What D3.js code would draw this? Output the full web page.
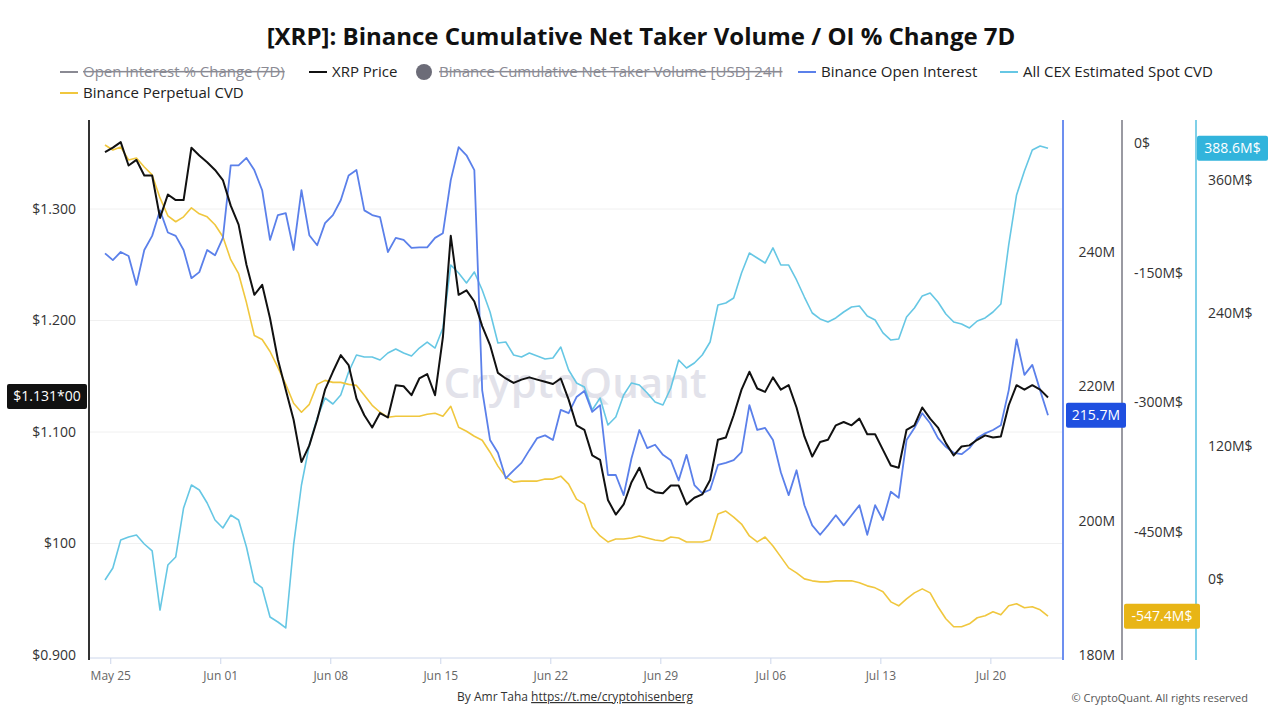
<!DOCTYPE html>
<html>
<head>
<meta charset="utf-8">
<script src="https://cdnjs.cloudflare.com/ajax/libs/d3/7.8.5/d3.min.js"></script>
<style>
	body { margin: 0; background: #fff; }
	svg text { font-family: "Open Sans", "Noto Sans", sans-serif; }
</style>
</head>
<body>
<svg id="chart" width="1280" height="720"></svg>
<script>

// 12-hourly samples, first one at May 24 16:00 UTC
const start_time = Date.UTC(2025, 4, 24, 16);
const step_hours = 12;

const price_values = [
	1.351, 1.355, 1.360, 1.339, 1.344, 1.330, 1.330, 1.292, 1.313, 1.308,
	1.308, 1.355, 1.348, 1.342, 1.335, 1.326, 1.303, 1.286, 1.250, 1.223,
	1.232, 1.202, 1.165, 1.138, 1.111, 1.073, 1.088, 1.111, 1.138, 1.154,
	1.169, 1.160, 1.130, 1.115, 1.104, 1.117, 1.113, 1.142, 1.141, 1.133,
	1.148, 1.152, 1.133, 1.185, 1.276, 1.223, 1.227, 1.217, 1.195, 1.178,
	1.153, 1.148, 1.144, 1.147, 1.149, 1.147, 1.145, 1.143, 1.148, 1.129,
	1.106, 1.102, 1.079, 1.075, 1.039, 1.026, 1.035, 1.055, 1.068, 1.050,
	1.046, 1.045, 1.052, 1.052, 1.035, 1.041, 1.044, 1.057, 1.093, 1.095,
	1.115, 1.138, 1.154, 1.139, 1.136, 1.149, 1.138, 1.142, 1.122, 1.096,
	1.078, 1.091, 1.093, 1.106, 1.109, 1.106, 1.112, 1.098, 1.098, 1.084,
	1.070, 1.068, 1.102, 1.106, 1.122, 1.112, 1.104, 1.090, 1.079, 1.087,
	1.088, 1.093, 1.097, 1.095, 1.096, 1.124, 1.142, 1.138, 1.142, 1.138,
	1.131
];

// Binance open interest, millions
const oi_values = [
	239.8, 238.8, 240.0, 239.4, 235.1, 240.3, 242.4, 246.2, 242.9, 242.4,
	240.3, 236.1, 237.0, 240.3, 239.5, 242.1, 252.9, 252.9, 254.0, 252.2,
	249.2, 241.8, 245.5, 245.8, 240.3, 249.2, 242.5, 241.0, 244.3, 245.5,
	247.7, 251.4, 252.2, 246.2, 245.5, 245.2, 240.0, 242.1, 241.8, 240.6,
	240.7, 240.7, 242.1, 242.8, 250.7, 255.6, 254.4, 252.2, 219.4, 212.0,
	210.1, 206.3, 207.5, 208.6, 210.5, 212.3, 212.7, 212.0, 216.5, 216.0,
	218.4, 219.3, 216.2, 217.2, 206.8, 206.8, 203.8, 209.3, 213.5, 210.8,
	211.3, 209.8, 209.0, 206.0, 209.8, 205.3, 204.1, 204.6, 208.3, 208.6,
	209.0, 210.2, 217.2, 213.5, 213.8, 212.0, 207.2, 203.8, 207.5, 202.3,
	199.3, 197.9, 199.3, 200.8, 199.3, 200.8, 202.3, 197.9, 202.3, 200.1,
	204.3, 203.4, 212.0, 213.8, 216.0, 214.5, 212.3, 211.0, 210.1, 209.9,
	210.8, 212.3, 213.0, 213.5, 214.2, 219.4, 227.0, 221.7, 223.2, 219.4,
	215.7
];

// Binance perpetual CVD, millions USD (shares the net taker volume axis)
const perp_cvd_values = [
	-2.3, -8.1, -4.6, -19.6, -17.3, -27.7, -36.9, -63.5, -84.2, -91.1,
	-85.4, -75.0, -81.9, -85.4, -94.6, -108.5, -135.0, -151.2, -184.6, -222.7,
	-227.3, -241.2, -259.6, -279.2, -301.1, -311.5, -302.3, -279.2, -274.6, -276.9,
	-276.9, -279.2, -280.4, -291.9, -303.5, -311.5, -317.3, -316.1, -316.1, -316.1,
	-316.1, -313.8, -312.7, -316.1, -304.6, -328.8, -333.4, -339.2, -343.8, -357.7,
	-373.8, -386.5, -392.3, -391.1, -391.1, -391.1, -388.8, -388.8, -385.4, -394.6,
	-411.9, -417.7, -444.2, -454.6, -461.5, -458.1, -458.1, -456.9, -454.6, -456.9,
	-459.2, -460.4, -455.8, -456.9, -461.5, -461.5, -461.5, -459.2, -429.2, -425.8,
	-432.7, -440.8, -454.6, -461.5, -455.8, -466.1, -478.8, -491.5, -497.3, -504.2,
	-506.5, -507.7, -507.7, -506.5, -506.5, -506.5, -508.8, -512.3, -514.6, -519.2,
	-530.8, -535.4, -527.3, -520.4, -515.8, -520.4, -536.5, -550.4, -559.6, -559.6,
	-556.2, -549.2, -546.9, -542.3, -545.8, -535.4, -533.1, -537.7, -536.5, -540.0,
	-547.4
];

// All CEX estimated spot CVD, millions USD
const spot_cvd_values = [
	-0.9, 9.9, 35.2, 37.9, 39.7, 31.6, 25.3, -28.0, 12.6, 19.9,
	64.1, 84.8, 80.3, 68.6, 53.2, 46.0, 57.7, 53.2, 28.9, -2.7,
	-8.1, -34.3, -38.8, -44.2, 30.7, 84.8, 120.9, 145.3, 163.3, 157.9,
	166.0, 186.8, 202.1, 200.3, 200.3, 197.6, 203.9, 207.5, 203.9, 201.2,
	208.4, 213.8, 208.4, 226.5, 283.3, 276.1, 267.1, 277.0, 260.8, 240.9,
	212.9, 213.8, 202.1, 200.3, 203.9, 201.2, 198.5, 199.4, 209.3, 188.6,
	176.9, 173.2, 152.5, 163.3, 139.0, 146.2, 166.0, 176.9, 175.0, 167.8,
	159.7, 157.0, 172.3, 197.6, 190.4, 194.9, 202.1, 213.8, 247.2, 249.0,
	253.5, 276.1, 294.1, 289.6, 285.1, 298.7, 283.3, 283.3, 269.8, 254.4,
	240.0, 234.6, 231.9, 235.5, 240.9, 245.4, 246.3, 237.3, 233.7, 222.0,
	215.6, 216.6, 236.4, 244.5, 255.4, 258.1, 249.9, 239.1, 231.9, 230.1,
	226.5, 232.8, 235.5, 240.9, 248.1, 301.4, 346.5, 368.1, 387.1, 390.7,
	388.6
];

const price_ticks = [0.9, 1.0, 1.1, 1.2, 1.3];
const price_tick_labels = ["$0.900", "$100", "$1.100", "$1.200", "$1.300"];
const oi_ticks = [180, 200, 220, 240];
const perp_ticks = [0, -150, -300, -450];
const spot_ticks = [0, 120, 240, 360];
const date_ticks = ["2025-05-25", "2025-06-01", "2025-06-08", "2025-06-15", "2025-06-22",
	"2025-06-29", "2025-07-06", "2025-07-13", "2025-07-20"];

const legend_names = ["Open Interest % Change (7D)", "XRP Price", "Binance Cumulative Net Taker Volume [USD] 24H",
	"Binance Open Interest", "All CEX Estimated Spot CVD", "Binance Perpetual CVD"];
const legend_colors = ["#8a8a93", "#111111", "#6c6c78", "#5b80ea", "#66c7e4", "#f0c73e"];
const legend_hidden = [true, false, true, false, false, false];
const legend_circle = [false, false, true, false, false, false];

const title_text = "[XRP]: Binance Cumulative Net Taker Volume / OI % Change 7D";

const colors = {
	price: "#111111",
	oi: "#5b80ea",
	perp: "#f0c73e",
	spot: "#66c7e4"
};

const svg = d3.select("#chart");
const plot = { left: 90, right: 1062, top: 120, bottom: 658 };

const times = price_values.map((d, i) => new Date(start_time + i * step_hours * 3600 * 1000));

const x = d3.scaleUtc()
	.domain([times[0], times[times.length - 1]])
	.range([105, 1048]);

const y_price = d3.scaleLinear().domain([0.9, 1.3]).range([655, 209]);
const y_oi = d3.scaleLinear().domain([180, 240]).range([655, 252]);
const y_perp = d3.scaleLinear().domain([0, -450]).range([143, 532]);
const y_spot = d3.scaleLinear().domain([0, 360]).range([579, 180]);

// title
svg.append("text")
	.attr("x", 641).attr("y", 45)
	.attr("text-anchor", "middle")
	.style("font-size", "24px")
	.style("font-weight", 700)
	.style("fill", "#111")
	.text(title_text);

// legend
const legend_pos = [[60, 72], [309, 72], [416, 72], [798, 72], [1000, 72], [60, 93]];
legend_names.forEach((name, i) => {
	const g = svg.append("g").attr("transform", "translate(" + legend_pos[i][0] + "," + legend_pos[i][1] + ")");
	if (legend_circle[i]) {
		g.append("circle").attr("cx", 8).attr("cy", 0).attr("r", 8).style("fill", legend_colors[i]);
	} else {
		g.append("line").attr("x1", 0).attr("x2", 18).attr("y1", 0).attr("y2", 0)
			.style("stroke", legend_colors[i]).style("stroke-width", 2);
	}
	g.append("text")
		.attr("x", 23).attr("y", 5)
		.style("font-size", "15px")
		.style("fill", legend_hidden[i] ? "#8a8a93" : "#222")
		.style("text-decoration", legend_hidden[i] ? "line-through" : "none")
		.text(name);
});

// gridlines
svg.append("g").selectAll("line")
	.data(price_ticks.slice(1))
	.enter().append("line")
	.attr("x1", plot.left).attr("x2", plot.right)
	.attr("y1", d => y_price(d)).attr("y2", d => y_price(d))
	.style("stroke", "#f0f0f0").style("stroke-width", 1);

// watermark
svg.append("text")
	.attr("x", 575).attr("y", 398)
	.attr("text-anchor", "middle")
	.style("font-size", "42px")
	.style("font-weight", 600)
	.style("fill", "#e2e2ea")
	.text("CryptoQuant");

// x axis
const x_axis = d3.axisBottom(x)
	.tickValues(date_ticks.map(d => new Date(d + "T00:00:00Z")))
	.tickFormat(d3.utcFormat("%b %d"))
	.tickSize(6).tickSizeOuter(0);
const x_g = svg.append("g")
	.attr("transform", "translate(0," + plot.bottom + ")")
	.call(x_axis);
x_g.select(".domain").attr("d", "M" + plot.left + ",0H" + plot.right).style("stroke", "#ccd6eb");
x_g.selectAll(".tick line").style("stroke", "#ccd6eb");
x_g.selectAll(".tick text").attr("dy", "1.1em").style("font-size", "12px").style("fill", "#666");

// left price axis
const price_axis = d3.axisLeft(y_price)
	.tickValues(price_ticks)
	.tickFormat((d, i) => price_tick_labels[i])
	.tickSize(0).tickPadding(13);
const price_g = svg.append("g").attr("transform", "translate(" + 89 + ",0)").call(price_axis);
price_g.select(".domain").attr("d", "M0," + plot.top + "V" + (plot.bottom + 2)).style("stroke", "#333").style("stroke-width", 2);
price_g.selectAll(".tick text").style("font-size", "14px").style("fill", "#333");

// right axes
function rightAxis(scale, ticks, fmt, x_line, line_color, label_x, anchor) {
	const g = svg.append("g");
	g.append("line")
		.attr("x1", x_line).attr("x2", x_line)
		.attr("y1", plot.top).attr("y2", plot.bottom + 2)
		.style("stroke", line_color).style("stroke-width", 2);
	g.selectAll("text").data(ticks).enter().append("text")
		.attr("x", label_x).attr("y", d => scale(d))
		.attr("dy", "0.35em")
		.attr("text-anchor", anchor)
		.style("font-size", "14px").style("fill", "#333")
		.text(fmt);
}
rightAxis(y_oi, oi_ticks, d => d + "M", 1063, "#6d8ff0", 1115, "end");
rightAxis(y_perp, perp_ticks, d => d + (d === 0 ? "$" : "M$"), 1122, "#9a9aa2", 1134, "start");
rightAxis(y_spot, spot_ticks, d => d + (d === 0 ? "$" : "M$"), 1196, "#7fd0e8", 1208, "start");

// series lines
const series = [
	{ values: spot_cvd_values, scale: y_spot, color: colors.spot, width: 1.6 },
	{ values: perp_cvd_values, scale: y_perp, color: colors.perp, width: 1.6 },
	{ values: oi_values, scale: y_oi, color: colors.oi, width: 1.8 },
	{ values: price_values, scale: y_price, color: colors.price, width: 2 }
];
const lines_g = svg.append("g");
series.forEach(s => {
	const line = d3.line()
		.x((d, i) => x(times[i]))
		.y(d => s.scale(d));
	lines_g.append("path")
		.datum(s.values)
		.attr("d", line)
		.style("fill", "none")
		.style("stroke", s.color)
		.style("stroke-width", s.width)
		.style("stroke-linejoin", "round");
});

// last value badges
function badge(x0, w, y_center, fill, label) {
	const h = 25;
	svg.append("rect")
		.attr("x", x0).attr("y", y_center - h / 2)
		.attr("width", w).attr("height", h)
		.attr("rx", 2)
		.style("fill", fill);
	svg.append("text")
		.attr("x", x0 + w / 2).attr("y", y_center)
		.attr("dy", "0.35em")
		.attr("text-anchor", "middle")
		.style("font-size", "14px").style("fill", "#fff")
		.text(label);
}
const last = price_values.length - 1;
badge(7, 80, y_price(price_values[last]) - 1, "#111", "$1.131*00");
badge(1066, 60, y_oi(oi_values[last]), "#1f4fe0", oi_values[last].toFixed(1) + "M");
badge(1124, 76, y_perp(perp_cvd_values[last]), "#e8b516", perp_cvd_values[last].toFixed(1) + "M$");
badge(1197, 71, y_spot(spot_cvd_values[last]), "#32b4dc", spot_cvd_values[last].toFixed(1) + "M$");

// footer
const footer = svg.append("text")
	.attr("x", 575).attr("y", 701)
	.attr("text-anchor", "middle")
	.style("font-size", "12px").style("fill", "#333");
footer.append("tspan").text("By Amr Taha ");
footer.append("tspan").style("text-decoration", "underline").text("https://t.me/cryptohisenberg");

svg.append("text")
	.attr("x", 1248).attr("y", 702)
	.attr("text-anchor", "end")
	.style("font-size", "11px").style("fill", "#555")
	.text("© CryptoQuant. All rights reserved");
</script>
</body>
</html>
